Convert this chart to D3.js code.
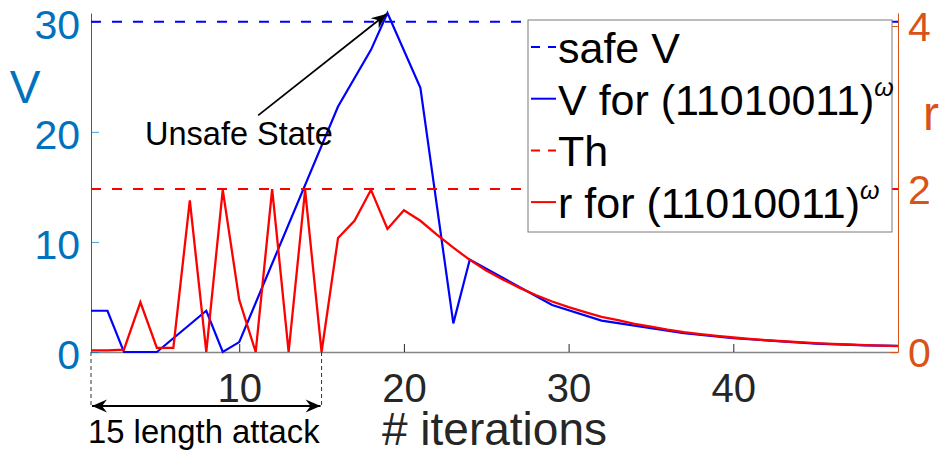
<!DOCTYPE html>
<html>
<head>
<meta charset="utf-8">
<script src="https://cdn.jsdelivr.net/npm/d3@7"></script>
<style>
    body { margin: 0; background: #fff; }
    text { font-family: "Liberation Sans", Arial, Helvetica, sans-serif; }
</style>
</head>
<body>
<div id="chart"></div>
<script>
// iterations and r values (right axis)
const rIter = [1, 2, 3, 4, 5, 6, 7, 8, 9, 10, 11, 12, 13, 14, 15, 16, 17, 18, 19, 20,
    21, 22, 23, 24, 25, 26, 27, 28, 29, 30, 31, 32, 33, 34, 35, 36, 37, 38, 39, 40,
    41, 42, 43, 44, 45, 46, 47, 48, 49, 50];
const rValues = [0.02, 0.02, 0.03, 0.61, 0.05, 0.05, 1.86, 0, 1.99, 0.64, 0, 2.0, 0, 1.99, 0, 1.40, 1.61, 1.99, 1.51, 1.74,
    1.61, 1.44, 1.28, 1.13, 1.00, 0.89, 0.79, 0.70, 0.62, 0.55, 0.49, 0.43, 0.39, 0.345, 0.31, 0.275, 0.245, 0.22, 0.197, 0.178,
    0.16, 0.145, 0.132, 0.12, 0.109, 0.1, 0.092, 0.084, 0.077, 0.071];

// V values (left axis), only where the line bends
const vIter = [1, 2, 3, 5, 8, 9, 10, 16, 18, 19, 21, 23, 24, 29, 32, 37, 40, 45, 48, 50];
const vValues = [3.75, 3.75, 0, 0, 3.75, 0, 0.9, 22.3, 27.45, 30.8, 24.0, 2.6, 8.4, 4.27, 2.85, 1.72, 1.25, 0.76, 0.6, 0.55];

const safeV = 30;
const threshold = 2;
const attackLength = 15;
const peakIter = 19;

const xTicks = [10, 20, 30, 40];
const vTicks = [0, 10, 20, 30];
const rTicks = [0, 2, 4];

const legendItems = [
    { label: "safe V", sup: "", color: "#0000ff", dash: "9,8" },
    { label: "V for (11010011)", sup: "ω", color: "#0000ff", dash: null },
    { label: "Th", sup: "", color: "#ff0000", dash: "9,8" },
    { label: "r for (11010011)", sup: "ω", color: "#ff0000", dash: null }
];

const blueAxis = "#0072BD";
const orangeAxis = "#D95319";

// dimensions and margins
const margin = { top: 13, right: 47, bottom: 103, left: 91 };
const width = 945 - margin.left - margin.right;
const height = 455 - margin.top - margin.bottom;

const root = d3.select("#chart")
    .append("svg")
    .attr("width", 945)
    .attr("height", 455);

const svg = root.append("g")
    .attr("transform", `translate(${margin.left}, ${margin.top})`);

// arrow heads
const defs = root.append("defs");
defs.append("marker")
    .attr("id", "head")
    .attr("viewBox", "-16 -8 18 16")
    .attr("refX", 0)
    .attr("refY", 0)
    .attr("markerWidth", 18)
    .attr("markerHeight", 16)
    .attr("markerUnits", "userSpaceOnUse")
    .attr("orient", "auto-start-reverse")
    .append("path")
    .attr("d", "M0,0 L-15,-6.5 L-10,0 L-15,6.5 Z")
    .attr("fill", "#000");

// scales
const x = d3.scaleLinear().domain([1, 50]).range([0, width]);
const yL = d3.scaleLinear().domain([0, 30.8]).range([height, 0]);
const yR = d3.scaleLinear().domain([0, 4.16]).range([height, 0]);

// axes
const xAxis = d3.axisBottom(x).tickValues(xTicks).tickSize(-8).tickSizeOuter(0).tickPadding(22);
const lAxis = d3.axisLeft(yL).tickValues(vTicks).tickSize(-8).tickSizeOuter(0).tickPadding(11);
const rAxis = d3.axisRight(yR).tickValues(rTicks).tickFormat(d3.format("d"))
    .tickSize(-8).tickSizeOuter(0).tickPadding(10);

const gx = svg.append("g")
    .attr("transform", `translate(0, ${height})`)
    .call(xAxis);
gx.select(".domain").attr("stroke", "#858585").attr("stroke-width", 1.5);
gx.selectAll(".tick line").attr("stroke", "#262626");
gx.selectAll(".tick text")
    .attr("fill", "#262626")
    .style("font-size", "40px");

const gl = svg.append("g").call(lAxis);
gl.select(".domain").attr("stroke", blueAxis);
gl.selectAll(".tick line").attr("stroke", blueAxis).attr("opacity", 0.7);
gl.selectAll(".tick text")
    .attr("fill", blueAxis)
    .attr("dy", "0.4em")
    .style("font-size", "41px");

const gr = svg.append("g")
    .attr("transform", `translate(${width}, 0)`)
    .call(rAxis);
gr.select(".domain").attr("stroke", orangeAxis);
gr.selectAll(".tick line").attr("stroke", orangeAxis);
gr.selectAll(".tick text")
    .attr("fill", orangeAxis)
    .attr("dy", "0.36em")
    .style("font-size", "41px");

// axis labels
svg.append("text")
    .attr("x", width / 2)
    .attr("y", height + 93)
    .attr("text-anchor", "middle")
    .attr("fill", "#262626")
    .style("font-size", "46px")
    .text("# iterations");

svg.append("text")
    .attr("x", -66)
    .attr("y", 90)
    .attr("text-anchor", "middle")
    .attr("fill", blueAxis)
    .style("font-size", "46px")
    .text("V");

svg.append("text")
    .attr("x", width + 33)
    .attr("y", 117)
    .attr("text-anchor", "middle")
    .attr("fill", orangeAxis)
    .style("font-size", "48px")
    .text("r");

// safe V line
svg.append("line")
    .attr("x1", 0).attr("x2", width)
    .attr("y1", yL(safeV)).attr("y2", yL(safeV))
    .attr("stroke", "#0000ff")
    .attr("stroke-width", 2)
    .attr("stroke-dasharray", "10,11");

// V line
const vLine = d3.line()
    .x((d, i) => x(vIter[i]))
    .y(d => yL(d));
svg.append("path")
    .datum(vValues)
    .attr("d", vLine)
    .attr("fill", "none")
    .attr("stroke", "#0000ff")
    .attr("stroke-width", 2.2);

// threshold line
svg.append("line")
    .attr("x1", 0).attr("x2", width)
    .attr("y1", yR(threshold)).attr("y2", yR(threshold))
    .attr("stroke", "#ff0000")
    .attr("stroke-width", 2)
    .attr("stroke-dasharray", "10,11");

// r line
const rLine = d3.line()
    .x((d, i) => x(rIter[i]))
    .y(d => yR(d));
svg.append("path")
    .datum(rValues)
    .attr("d", rLine)
    .attr("fill", "none")
    .attr("stroke", "#ff0000")
    .attr("stroke-width", 2.3);

// unsafe state annotation
svg.append("line")
    .attr("x1", x(11.15)).attr("y1", yL(21.5))
    .attr("x2", x(peakIter) - 1).attr("y2", yL(30.8) + 1)
    .attr("stroke", "#000")
    .attr("stroke-width", 1.8)
    .attr("marker-end", "url(#head)");

svg.append("text")
    .attr("x", x(4.28))
    .attr("y", yL(18.8))
    .attr("fill", "#000")
    .style("font-size", "32.5px")
    .text("Unsafe State");

// attack length annotation
[1, attackLength].forEach(it => {
    svg.append("line")
        .attr("x1", x(it)).attr("x2", x(it))
        .attr("y1", height).attr("y2", height + 56)
        .attr("stroke", "#333")
        .attr("stroke-width", 1)
        .attr("stroke-dasharray", "4,3");
});

svg.append("line")
    .attr("x1", x(1) + 1).attr("x2", x(attackLength) - 1)
    .attr("y1", height + 54).attr("y2", height + 54)
    .attr("stroke", "#000")
    .attr("stroke-width", 1.8)
    .attr("marker-start", "url(#head)")
    .attr("marker-end", "url(#head)");

svg.append("text")
    .attr("x", x(1) - 3)
    .attr("y", height + 91)
    .attr("fill", "#000")
    .style("font-size", "32.8px")
    .text(attackLength + " length attack");

// legend
const legend = svg.append("g")
    .attr("transform", `translate(${437}, ${7})`);

legend.append("rect")
    .attr("width", 364)
    .attr("height", 212)
    .attr("fill", "#fff")
    .attr("stroke", "#7a7a7a")
    .attr("stroke-width", 1);

legendItems.forEach((d, i) => {
    const base = 43 + i * 51.7;
    legend.append("line")
        .attr("x1", 3).attr("x2", 28)
        .attr("y1", base - 16).attr("y2", base - 16)
        .attr("stroke", d.color)
        .attr("stroke-width", 2)
        .attr("stroke-dasharray", d.dash);

    const t = legend.append("text")
        .attr("x", 30)
        .attr("y", base)
        .attr("fill", "#000")
        .style("font-size", "43px");
    t.append("tspan").text(d.label);
    if (d.sup) {
        t.append("tspan")
            .attr("dy", -19)
            .style("font-size", "25px")
            .style("font-style", "italic")
            .text(d.sup);
    }
});
</script>
</body>
</html>
